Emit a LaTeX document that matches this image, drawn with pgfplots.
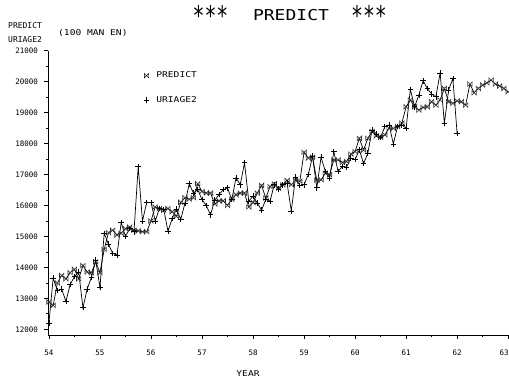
\documentclass[border=0pt]{standalone}
\usepackage{fontspec}
\setmainfont{DejaVu Sans Mono}
\newfontfamily\widefont{DejaVu Sans Mono}[FakeStretch=1.2]
\usepackage{graphicx}
\usepackage{pgfplots}
\pgfplotsset{compat=1.18}
\usepackage{pgfplotstable}

\pgfdeclareplotmark{bowx}{%
  \pgfpathmoveto{\pgfqpoint{-\pgfplotmarksize}{-\pgfplotmarksize}}%
  \pgfpathlineto{\pgfqpoint{\pgfplotmarksize}{\pgfplotmarksize}}%
  \pgfpathlineto{\pgfqpoint{\pgfplotmarksize}{-\pgfplotmarksize}}%
  \pgfpathlineto{\pgfqpoint{-\pgfplotmarksize}{\pgfplotmarksize}}%
  \pgfpathclose
  \pgfusepathqstroke}

\newcommand{\bigast}{\raisebox{-0.62em}{\scalebox{1.1}[1.8]{*}}}

% month index (0 = Jan 54), value
\pgfplotstableread{
m v
0 12880
1 12770
2 13500
3 13740
4 13630
5 13830
6 13940
7 13630
8 14060
9 13850
10 13830
11 14180
12 13830
13 14580
14 15120
15 15200
16 15050
17 15100
18 15250
19 15300
20 15200
21 15180
22 15150
23 15150
24 15500
25 15950
26 15900
27 15850
28 15900
29 15800
30 15650
31 16100
32 16250
33 16200
34 16250
35 16700
36 16450
37 16400
38 16400
39 16050
40 16150
41 16150
42 16000
43 16200
44 16350
45 16400
46 16400
47 15950
48 16100
49 16400
50 16650
51 16240
52 16610
53 16700
54 16560
55 16670
56 16810
57 16670
58 16810
59 16780
60 17720
61 17530
62 17560
63 16810
64 16830
65 17040
66 16990
67 17470
68 17470
69 17390
70 17420
71 17660
72 17740
73 18170
74 17790
75 18170
76 18390
77 18250
78 18200
79 18280
80 18500
81 18490
82 18550
83 18660
84 19190
85 19410
86 19190
87 19080
88 19170
89 19190
90 19350
91 19240
92 19410
93 19780
94 19350
95 19300
96 19380
97 19350
98 19240
99 19920
100 19640
101 19780
102 19890
103 19960
104 20050
105 19920
106 19860
107 19780
108 19670
}\predict

\pgfplotstableread{
m v
0 12200
1 13650
2 13250
3 13300
4 12900
5 13450
6 13700
7 13850
8 12700
9 13300
10 13680
11 14230
12 13350
13 15100
14 14750
15 14450
16 14400
17 15450
18 15000
19 15250
20 15150
21 17250
22 15500
23 16100
24 16100
25 15500
26 15900
27 15870
28 15170
29 15580
30 15890
31 15550
32 16080
33 16700
34 16400
35 16510
36 16190
37 16000
38 15700
39 16170
40 16350
41 16510
42 16570
43 16190
44 16890
45 16670
46 17380
47 16140
48 16300
49 16080
50 15850
51 16190
52 16140
53 16670
54 16530
55 16670
56 16730
57 15820
58 16920
59 16640
60 16670
61 17000
62 17590
63 16570
64 17560
65 17100
66 16890
67 17740
68 17100
69 17260
70 17240
71 17530
72 17480
73 17800
74 17350
75 17690
76 18440
77 18310
78 18200
79 18550
80 18600
81 17990
82 18550
83 18600
84 18500
85 19750
86 19190
87 19570
88 20030
89 19780
90 19600
91 19510
92 20280
93 18650
94 19730
95 20100
96 18320
}\uriage

\begin{document}
\begin{tikzpicture}[x=1pt,y=1pt]
\useasboundingbox (-48.5,-45) rectangle (460.5,335);
\begin{axis}[
  at={(0,0)}, anchor=south west,
  scale only axis, width=460.5pt, height=284.3pt,
  xmin=-0.1, xmax=108.2, ymin=11816, ymax=21000,
  axis x line=bottom, axis y line=left,
  axis line style={-, line width=0.7pt, black},
  xtick={0,12,24,36,48,60,72,84,96,108},
  xticklabels={54,55,56,57,58,59,60,61,62,\hspace*{-8pt}63},
  minor xtick={6,18,30,42,54,66,78,90,102},
  ytick={12000,13000,14000,15000,16000,17000,18000,19000,20000,21000},
  minor ytick={12500,13500,14500,15500,16500,17500,18500,19500,20500},
  scaled y ticks=false,
  tick align=outside,
  major tick length=4pt, minor tick length=2pt,
  tick style={black, line width=0.7pt},
  /pgf/number format/1000 sep={},
  /pgf/number format/assume math mode=true,
  xticklabel style={font=\fontsize{7.5}{8}\selectfont, yshift=-7.5pt},
  yticklabel style={font=\fontsize{7.5}{8}\selectfont, xshift=-3pt},
  legend style={draw=none, fill=none, at={(axis description cs:0.200,0.94)},
    anchor=north west, row sep=13pt,
    font=\widefont\fontsize{8}{9}\selectfont},
  legend cell align=left,
  clip=false,
]
\addplot[black, line width=0.7pt, mark=bowx, mark size=2.2pt, mark options={line width=0.6pt, black!80}, forget plot]
  table[x=m, y=v] {\predict};
\addplot[black, line width=0.7pt, mark=+, mark size=2.8pt, mark options={line width=0.7pt}, forget plot]
  table[x=m, y=v] {\uriage};
\addlegendimage{only marks, mark=bowx, mark size=2.2pt, black}
\addlegendentry{\hspace*{5pt}PREDICT}
\addlegendimage{only marks, mark=+, mark size=2.8pt, black}
\addlegendentry{\hspace*{5pt}URIAGE2}
\end{axis}
% titles and labels
\node[font=\widefont\fontsize{15}{16}\selectfont] at (162,320) {\bigast\bigast\bigast};
\node[font=\widefont\fontsize{15}{16}\selectfont] at (242.5,320) {PREDICT};
\node[font=\widefont\fontsize{15}{16}\selectfont] at (320.5,320) {\bigast\bigast\bigast};
\node[font=\fontsize{8}{9}\selectfont, anchor=west, inner sep=0pt] at (-40.5,309) {PREDICT};
\node[font=\fontsize{8}{9}\selectfont, anchor=west, inner sep=0pt] at (-40.5,295) {URIAGE2};
\node[font=\widefont\fontsize{8}{9}\selectfont, anchor=west, inner sep=0pt] at (9.5,302) {(100 MAN EN)};
\node[font=\widefont\fontsize{8}{9}\selectfont, inner sep=0pt] at (199.5,-39) {YEAR};
\end{tikzpicture}
\end{document}
